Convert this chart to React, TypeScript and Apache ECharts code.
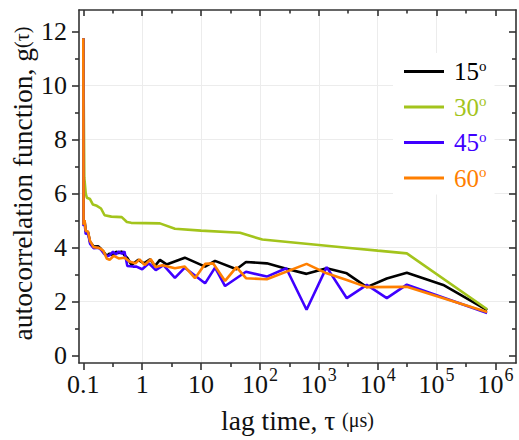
import React, { useEffect, useRef } from 'react';
import * as echarts from 'echarts';

// lag time τ (µs) and autocorrelation g(τ), one pair of arrays per scattering angle
const T15 = [0.1, 0.101, 0.105, 0.11, 0.12, 0.13, 0.15, 0.18, 0.2, 0.22, 0.25, 0.28, 0.32, 0.36, 0.4, 0.45, 0.5, 0.56, 0.66, 0.86, 1.07, 1.36, 1.65, 2.0, 2.6, 5.3, 11.7, 17.3, 40, 58, 131, 280, 620, 1360, 2990, 6540, 14300, 31300, 130000, 724000];
const G15 = [11.75, 4.85, 5.0, 4.6, 4.58, 4.22, 4.04, 4.05, 3.95, 3.85, 3.7, 3.78, 3.72, 3.85, 3.8, 3.86, 3.72, 3.62, 3.36, 3.55, 3.42, 3.57, 3.32, 3.55, 3.38, 3.63, 3.3, 3.51, 3.2, 3.47, 3.42, 3.22, 3.03, 3.24, 3.05, 2.54, 2.86, 3.07, 2.62, 1.69];

const T30 = [0.1, 0.104, 0.11, 0.115, 0.13, 0.145, 0.17, 0.2, 0.23, 0.3, 0.45, 0.55, 0.65, 2.0, 3.6, 10, 46, 110, 300, 1000, 3000, 10000, 31300, 724000];
const G30 = [11.75, 6.6, 6.0, 5.85, 5.8, 5.6, 5.55, 5.45, 5.2, 5.15, 5.13, 4.95, 4.92, 4.9, 4.7, 4.63, 4.55, 4.3, 4.21, 4.1, 4.0, 3.89, 3.79, 1.72];

const T45 = [0.1, 0.101, 0.105, 0.11, 0.12, 0.13, 0.15, 0.18, 0.2, 0.22, 0.25, 0.28, 0.32, 0.36, 0.4, 0.45, 0.5, 0.56, 0.7, 0.8, 1.0, 1.3, 1.7, 2.3, 3.6, 5.3, 11.7, 17.3, 25.6, 58, 131, 280, 620, 1360, 2990, 6540, 14300, 31300, 724000];
const G45 = [11.75, 4.8, 4.95, 4.5, 4.55, 4.15, 3.98, 4.0, 3.92, 3.8, 3.68, 3.72, 3.85, 3.75, 3.86, 3.78, 3.86, 3.32, 3.3, 3.3, 3.2, 3.42, 3.17, 3.35, 2.88, 3.26, 2.68, 3.26, 2.58, 3.11, 2.93, 3.24, 1.7, 3.28, 2.13, 2.62, 2.13, 2.63, 1.58];

const T60 = [0.1, 0.101, 0.105, 0.11, 0.12, 0.13, 0.15, 0.18, 0.2, 0.22, 0.25, 0.28, 0.33, 0.4, 0.5, 0.62, 0.77, 0.9, 1.1, 1.4, 1.7, 2.2, 3.6, 5.3, 7.9, 11.7, 16, 25.6, 40, 58, 131, 620, 1360, 2990, 6540, 31300, 724000];
const G60 = [11.75, 4.85, 5.02, 4.62, 4.6, 4.25, 4.02, 4.0, 3.95, 3.88, 3.6, 3.55, 3.7, 3.6, 3.63, 3.48, 3.42, 3.57, 3.36, 3.57, 3.28, 3.35, 3.24, 3.3, 2.87, 3.4, 3.42, 2.77, 3.28, 2.87, 2.83, 3.4, 3.05, 2.8, 2.54, 2.55, 1.62];

const SERIES_ANGLES = ['15', '30', '45', '60'];
const SERIES_COLORS = ['#000000', '#a3c41c', '#3f00ff', '#ff7f00'];

// x axis works on log10(τ)
const X_TICKS = [-1, 0, 1, 2, 3, 4, 5, 6];
const X_MINOR_TICKS = [-0.5, 0.5, 1.5, 2.5, 3.5, 4.5, 5.5];
const X_TICK_BASE = ['0.1', '1', '10', '10', '10', '10', '10', '10'];
const X_TICK_EXP = ['', '', '', '2', '3', '4', '5', '6'];
const Y_TICKS = [0, 2, 4, 6, 8, 10, 12];
const Y_MINOR_TICKS = [1, 3, 5, 7, 9, 11];

const X_MIN = -1.073;
const X_MAX = 6.35;
const Y_MIN = -0.27;
const Y_MAX = 12.8;

const FONT = '"Liberation Serif", "DejaVu Serif", "Times New Roman", serif';
const AXIS_COLOR = '#333333';
const TEXT_COLOR = '#111111';

export default function App() {
  const ref = useRef<HTMLDivElement>(null);

  useEffect(() => {
    if (!ref.current) return;
    const chart = echarts.init(ref.current, null, { renderer: 'svg' });

    const pairs = (t: number[], g: number[]) => t.map((v, i) => [Math.log10(v), g[i]]);
    const seriesData = [pairs(T15, G15), pairs(T30, G30), pairs(T45, G45), pairs(T60, G60)];
    const names = SERIES_ANGLES.map((a) => a + '°');

    const lineStyle = { color: AXIS_COLOR, width: 1.6 };

    const baseX = {
      type: 'value' as const,
      min: X_MIN,
      max: X_MAX,
      splitLine: { show: false },
      axisLabel: { show: false },
    };
    const baseY = {
      type: 'value' as const,
      min: Y_MIN,
      max: Y_MAX,
      splitLine: { show: false },
      axisLabel: { show: false },
    };

    const legendRich: Record<string, any> = {};
    SERIES_ANGLES.forEach((a, i) => {
      legendRich['m' + i] = {
        fontFamily: FONT,
        fontSize: 25,
        lineHeight: 27,
        color: SERIES_COLORS[i],
        padding: [0, 0, 0, 5],
      };
      legendRich['s' + i] = {
        fontFamily: FONT,
        fontSize: 15,
        lineHeight: 15,
        color: SERIES_COLORS[i],
        verticalAlign: 'top',
        padding: [0, 0, 12, 0],
      };
    });

    const option: any = {
      animation: false,
      backgroundColor: '#ffffff',
      grid: {
        left: 79,
        right: 3,
        top: 10,
        bottom: 77,
        containLabel: false,
        outerBoundsMode: 'none',
      },
      legend: {
        orient: 'vertical',
        left: 393,
        top: 53,
        padding: [5, 8, 3, 11],
        backgroundColor: '#ffffff',
        itemWidth: 40,
        itemHeight: 3,
        itemGap: 8.5,
        icon: 'rect',
        selectedMode: false,
        data: names,
        formatter: (name: string) => {
          const i = names.indexOf(name);
          return `{m${i}|${SERIES_ANGLES[i]}}{s${i}|o}`;
        },
        textStyle: { fontFamily: FONT, fontSize: 25, rich: legendRich },
      },
      xAxis: [
        {
          ...baseX,
          position: 'bottom',
          minInterval: 1,
          maxInterval: 1,
          axisLine: { show: true, onZero: false, lineStyle },
          axisTick: { show: true, customValues: X_TICKS, length: 7, lineStyle },
          axisLabel: {
            show: true,
            customValues: X_TICKS,
            margin: 3,
            color: TEXT_COLOR,
            fontFamily: FONT,
            fontSize: 26,
            formatter: (v: number) => {
              const i = X_TICKS.indexOf(Math.round(v));
              if (i < 0 || Math.abs(v - X_TICKS[i]) > 1e-6) return '';
              const e = X_TICK_EXP[i];
              return e ? `{m|${X_TICK_BASE[i]}}{sup|${e}}` : `{m|${X_TICK_BASE[i]}}`;
            },
            rich: {
              m: { fontFamily: FONT, fontSize: 26, lineHeight: 36, color: TEXT_COLOR },
              sup: {
                fontFamily: FONT,
                fontSize: 18,
                lineHeight: 18,
                color: TEXT_COLOR,
                verticalAlign: 'top',
                padding: [0, 0, 18, 1],
              },
            },
          },
          splitLine: {
            show: true,
            showMinLine: false,
            showMaxLine: false,
            lineStyle: { color: '#ececec', width: 1 },
          },
          name: 'lag time, τ {s|(μs)}',
          nameLocation: 'middle',
          nameGap: 43,
          nameMoveOverlap: false,
          nameTextStyle: {
            fontFamily: FONT,
            fontSize: 27.5,
            color: TEXT_COLOR,
            rich: { s: { fontFamily: FONT, fontSize: 20, color: TEXT_COLOR } },
          },
        },
        {
          ...baseX,
          position: 'bottom',
          axisLine: { show: false, onZero: false },
          axisTick: { show: true, customValues: X_MINOR_TICKS, length: 4, lineStyle },
        },
        {
          ...baseX,
          position: 'top',
          axisLine: { show: true, onZero: false, lineStyle },
          axisTick: { show: true, inside: true, customValues: X_TICKS, length: 6, lineStyle },
        },
        {
          ...baseX,
          position: 'top',
          axisLine: { show: false, onZero: false },
          axisTick: { show: true, inside: true, customValues: X_MINOR_TICKS, length: 3.5, lineStyle },
        },
      ],
      yAxis: [
        {
          ...baseY,
          position: 'left',
          minInterval: 2,
          maxInterval: 2,
          axisLine: { show: true, onZero: false, lineStyle },
          axisTick: { show: true, customValues: Y_TICKS, length: 7, lineStyle },
          axisLabel: {
            show: true,
            customValues: Y_TICKS,
            margin: 12,
            color: TEXT_COLOR,
            fontFamily: FONT,
            fontSize: 26,
          },
          splitLine: {
            show: true,
            showMinLine: false,
            showMaxLine: false,
            lineStyle: { color: '#ececec', width: 1 },
          },
          name: 'autocorrelation function, g{s|(τ)}',
          nameLocation: 'middle',
          nameGap: 43,
          nameMoveOverlap: false,
          nameTextStyle: {
            fontFamily: FONT,
            fontSize: 27.5,
            color: TEXT_COLOR,
            padding: [0, 0, 0, 6],
            rich: { s: { fontFamily: FONT, fontSize: 20, color: TEXT_COLOR } },
          },
        },
        {
          ...baseY,
          position: 'left',
          axisLine: { show: false, onZero: false },
          axisTick: { show: true, customValues: Y_MINOR_TICKS, length: 4, lineStyle },
        },
        {
          ...baseY,
          position: 'right',
          axisLine: { show: true, onZero: false, lineStyle },
          axisTick: { show: true, inside: true, customValues: Y_TICKS, length: 7, lineStyle },
        },
        {
          ...baseY,
          position: 'right',
          axisLine: { show: false, onZero: false },
          axisTick: { show: true, inside: true, customValues: Y_MINOR_TICKS, length: 4, lineStyle },
        },
      ],
      series: names.map((name, i) => ({
        name,
        type: 'line',
        xAxisIndex: 0,
        yAxisIndex: 0,
        data: seriesData[i],
        symbol: 'none',
        showSymbol: false,
        smooth: false,
        clip: true,
        lineStyle: { color: SERIES_COLORS[i], width: 2.6 },
        itemStyle: { color: SERIES_COLORS[i] },
        emphasis: { disabled: true },
      })),
    };

    chart.setOption(option);
    return () => chart.dispose();
  }, []);

  return (
    <div
      ref={ref}
      style={{ position: 'absolute', left: 0, top: 0, width: 519, height: 440, background: '#fff' }}
    />
  );
}
